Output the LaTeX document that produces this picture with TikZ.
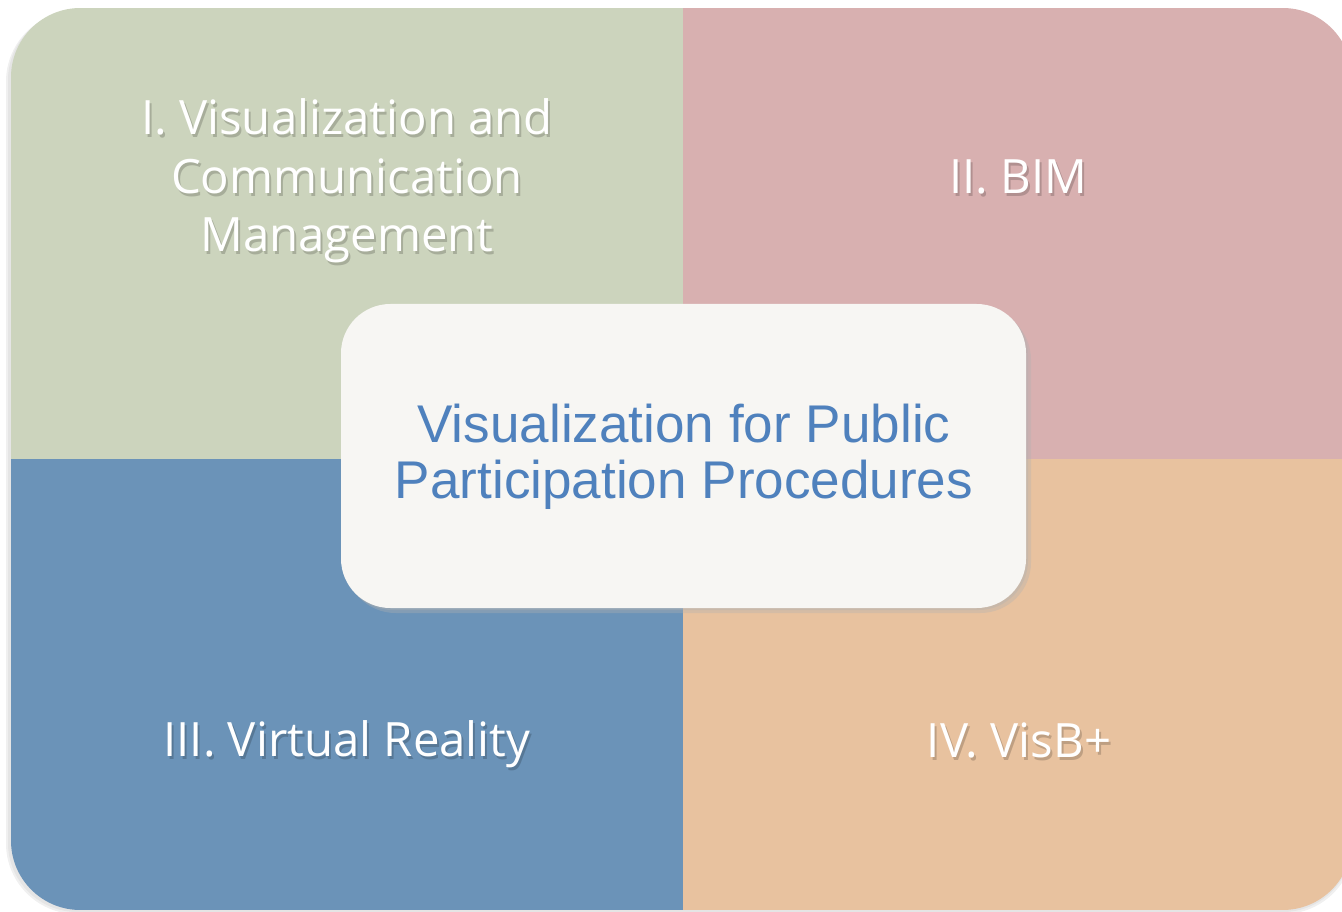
\documentclass[tikz,border=0pt]{standalone}
\usepackage{fontspec}
\setmainfont{Open Sans}
\newfontfamily\arialfont{Liberation Sans}
\definecolor{qgreen}{HTML}{CCD4BD}
\definecolor{qpink}{HTML}{D8B0B0}
\definecolor{qblue}{HTML}{6B93B8}
\definecolor{qorange}{HTML}{E8C29F}
\definecolor{cfill}{HTML}{F7F6F3}
\definecolor{ctext}{HTML}{4F81BD}
\tikzset{
  qlabel/.style={text=white, align=center, font=\fontsize{35.5}{44}\selectfont, inner sep=0pt},
  qshadow/.style={text=black, text opacity=0.18, align=center, font=\fontsize{35.5}{44}\selectfont, inner sep=0pt},
}
\begin{document}
\begin{tikzpicture}[x=0.75pt,y=-0.75pt]
\useasboundingbox (0,0) rectangle (1342,912);
% outer shadow
\fill[black!6, rounded corners=53pt] (6,11) rectangle (1354,914);
\fill[black!10, rounded corners=52pt] (8,11) rectangle (1352,912);
\begin{scope}
\clip[rounded corners=52pt] (11,8) rectangle (1352,910);
\fill[qgreen] (11,8) rectangle (683,459);
\fill[qpink] (683,8) rectangle (1352,459);
\fill[qblue] (11,459) rectangle (683,910);
\fill[qorange] (683,459) rectangle (1352,910);
\end{scope}
% quadrant label shadows
\node[qshadow] (s1) at (349,184) {I. Visualization and\\Communication\\Management};
\node[qshadow] (s2) at (1020,180) {II. BIM};
\node[qshadow] (s3) at (349,747) {III. Virtual Reality};
\node[qshadow] (s4) at (1021,743) {IV. VisB+};
% quadrant labels
\node[qlabel] (q1) at (347,181) {I. Visualization and\\Communication\\Management};
\node[qlabel] (q2) at (1018,177) {II. BIM};
\node[qlabel] (q3) at (347,744) {III. Virtual Reality};
\node[qlabel] (q4) at (1019,740) {IV. VisB+};
% center box
\fill[black!30, opacity=0.35, rounded corners=38pt] (345,309) rectangle (1031,613);
\fill[black!30, opacity=0.35, rounded corners=37pt] (343,306) rectangle (1028,610);
\fill[cfill, rounded corners=37pt] (341,304) rectangle (1026,608);
\node[text=ctext, align=center, inner sep=0pt, font=\arialfont\fontsize{39.8}{42}\selectfont] (c) at (684,457) {Visualization for Public\\Participation Procedures};
\end{tikzpicture}
\end{document}
